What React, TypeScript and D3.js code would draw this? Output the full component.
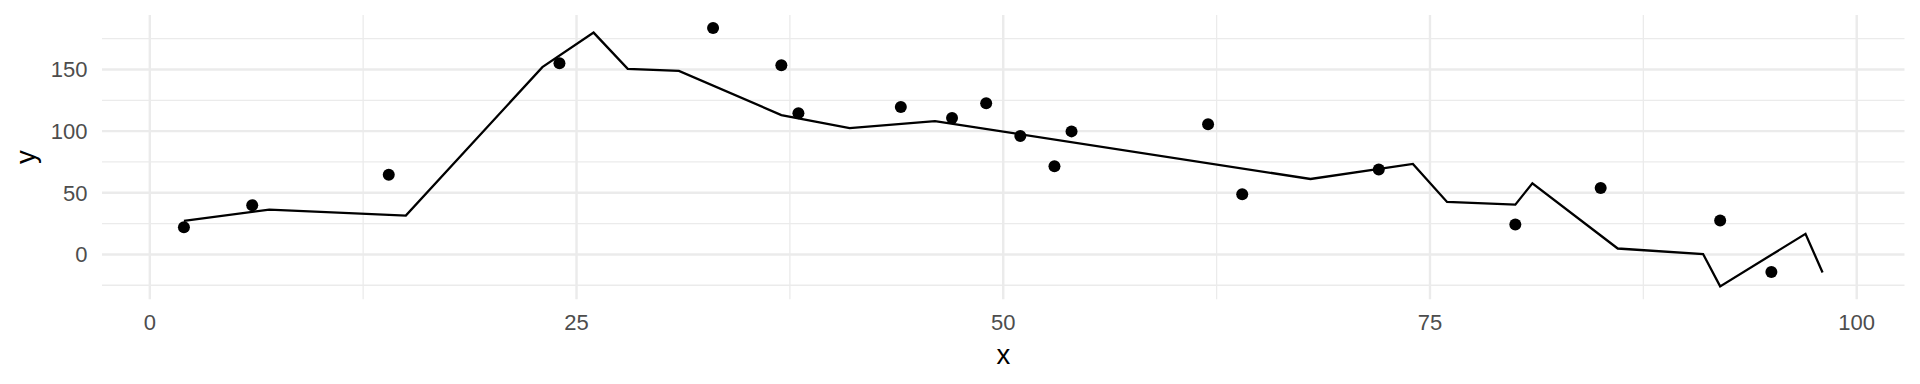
import React from "react";
import * as d3 from "d3";

const pointX = [2, 6, 14, 24, 33, 37, 38, 44, 47, 49, 51, 53, 54, 62, 64, 72, 80, 85, 92, 95];
const pointY = [22.1, 39.9, 64.7, 155.1, 183.7, 153.5, 114.6, 119.5, 110.6, 122.7, 96.0, 71.5, 99.8, 105.5, 48.8, 68.8, 24.3, 53.9, 27.5, -14.3];

const lineX = [2, 7, 15, 23, 26, 28, 31, 37, 41, 46, 68, 74, 76, 80, 81, 86, 91, 92, 97, 98];
const lineY = [27.2, 36.4, 31.5, 151.9, 179.9, 150.5, 148.9, 113.0, 102.5, 108.1, 61.2, 73.4, 42.6, 40.4, 57.7, 4.8, 0.3, -25.9, 16.7, -14.6];

const xMajor = [0, 25, 50, 75, 100];
const xMinor = [12.5, 37.5, 62.5, 87.5];
const yMajor = [0, 50, 100, 150];
const yMinor = [-25, 25, 75, 125, 175];

const W = 1920;
const H = 384;
const panel = { left: 102, right: 1904.5, top: 15, bottom: 299.3 };

function expand(vals: number[]): [number, number] {
  const lo = d3.min(vals) as number;
  const hi = d3.max(vals) as number;
  const pad = (hi - lo) * 0.05;
  return [lo - pad, hi + pad];
}

export default function App() {
  const x = d3.scaleLinear().domain(expand([...pointX, ...lineX])).range([panel.left, panel.right]);
  const y = d3.scaleLinear().domain(expand([...pointY, ...lineY])).range([panel.bottom, panel.top]);
  const lineData = lineX.map((v, i) => [v, lineY[i]] as [number, number]);
  const path = d3.line<[number, number]>().x((d) => x(d[0])).y((d) => y(d[1]))(lineData) || "";
  const font = "'Liberation Sans', Arial, Helvetica, sans-serif";
  return (
    <svg width={W} height={H} style={{ position: "absolute", left: 0, top: 0, background: "#fff" }}>
      <rect x={0} y={0} width={W} height={H} fill="#fff" />
      {yMinor.map((v) => (
        <line key={"ym" + v} x1={panel.left} x2={panel.right} y1={y(v)} y2={y(v)} stroke="#EBEBEB" strokeWidth={1.3} />
      ))}
      {xMinor.map((v) => (
        <line key={"xm" + v} x1={x(v)} x2={x(v)} y1={panel.top} y2={panel.bottom} stroke="#EBEBEB" strokeWidth={1.3} />
      ))}
      {yMajor.map((v) => (
        <line key={"yM" + v} x1={panel.left} x2={panel.right} y1={y(v)} y2={y(v)} stroke="#EBEBEB" strokeWidth={2.4} />
      ))}
      {xMajor.map((v) => (
        <line key={"xM" + v} x1={x(v)} x2={x(v)} y1={panel.top} y2={panel.bottom} stroke="#EBEBEB" strokeWidth={2.4} />
      ))}
      <path d={path} fill="none" stroke="#000" strokeWidth={2.3} strokeLinejoin="miter" />
      {pointX.map((v, i) => (
        <circle key={"p" + i} cx={x(v)} cy={y(pointY[i])} r={6} fill="#000" />
      ))}
      {yMajor.map((v) => (
        <text key={"yl" + v} x={87.5} y={y(v)} dy="0.36em" textAnchor="end" fontFamily={font} fontSize={22} fill="#4D4D4D">
          {v}
        </text>
      ))}
      {xMajor.map((v) => (
        <text key={"xl" + v} x={x(v)} y={330} textAnchor="middle" fontFamily={font} fontSize={22} fill="#4D4D4D">
          {v}
        </text>
      ))}
      <text x={(panel.left + panel.right) / 2} y={364} textAnchor="middle" fontFamily={font} fontSize={27.5} fill="#000">
        x
      </text>
      <text
        transform={`translate(35, ${(panel.top + panel.bottom) / 2}) rotate(-90)`}
        textAnchor="middle"
        fontFamily={font}
        fontSize={27.5}
        fill="#000"
      >
        y
      </text>
    </svg>
  );
}
